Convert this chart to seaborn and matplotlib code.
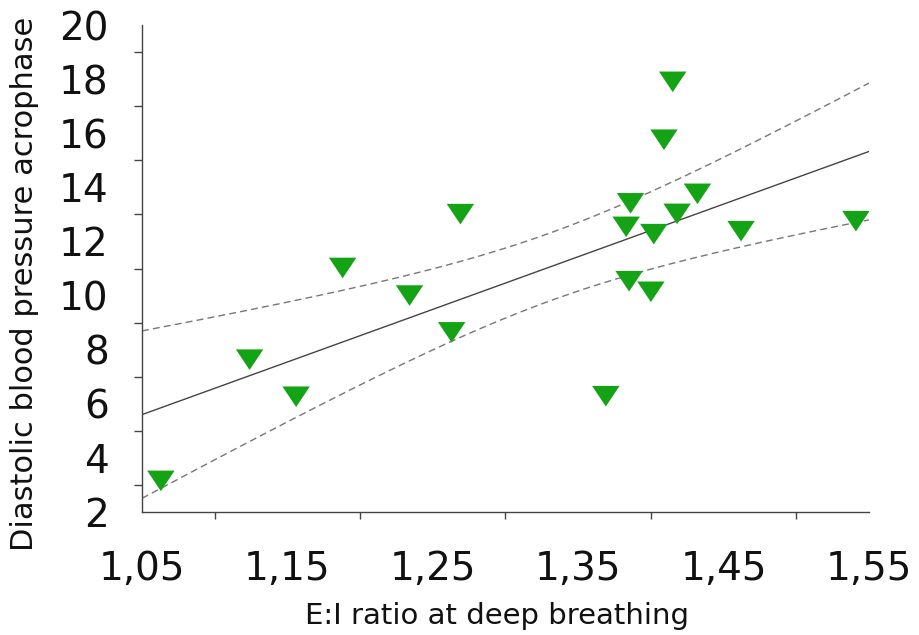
import numpy as np
import pandas as pd
import matplotlib
matplotlib.use("Agg")
import matplotlib.pyplot as plt
from matplotlib.ticker import MultipleLocator, FuncFormatter
from matplotlib.path import Path
import seaborn as sns

# ---- data ----
ei_ratio = [1.063, 1.124, 1.156, 1.188, 1.234, 1.263, 1.269, 1.369, 1.383,
            1.386, 1.385, 1.400, 1.402, 1.409, 1.415, 1.418, 1.432, 1.462, 1.541]
dbp_acrophase = [3.15, 7.63, 6.26, 11.02, 10.0, 8.64, 13.01, 6.28, 12.54,
                 13.41, 10.53, 10.14, 12.27, 15.76, 17.90, 13.02, 13.76, 12.38, 12.75]
x_ticks = [1.05, 1.15, 1.25, 1.35, 1.45, 1.55]
y_ticks = [2, 4, 6, 8, 10, 12, 14, 16, 18, 20]
x_label = "E:I ratio at deep breathing"
y_label = "Diastolic blood pressure acrophase"

df = pd.DataFrame({"x": ei_ratio, "y": dbp_acrophase})

sns.set_style("white")
plt.rcParams["font.family"] = ["DejaVu Sans"]

fig = plt.figure(figsize=(9.19, 6.35), dpi=100)
ax = fig.add_axes([0.1545, 0.1937, 0.7911, 0.7669])

# regression line and analytic 95% confidence band
xs = np.linspace(1.05, 1.55, 200)
x = df["x"].to_numpy(); y = df["y"].to_numpy()
n = len(x)
b1, b0 = np.polyfit(x, y, 1)
fit = b0 + b1 * xs
resid = y - (b0 + b1 * x)
s = np.sqrt(np.sum(resid ** 2) / (n - 2))
sxx = np.sum((x - x.mean()) ** 2)
tval = 2.110
hw = tval * s * np.sqrt(1.0 / n + (xs - x.mean()) ** 2 / sxx)
band = pd.DataFrame({"x": xs, "fit": fit, "lo": fit - hw, "hi": fit + hw})

sns.lineplot(data=band, x="x", y="fit", ax=ax, color="#444444", lw=1.0)
sns.lineplot(data=band, x="x", y="hi", ax=ax, color="#777777", lw=1.0,
             linestyle=(0, (5, 3)))
sns.lineplot(data=band, x="x", y="lo", ax=ax, color="#777777", lw=1.0,
             linestyle=(0, (5, 3)))

tri = Path([(-1, 0.75), (1, 0.75), (0, -0.75), (-1, 0.75)],
           [Path.MOVETO, Path.LINETO, Path.LINETO, Path.CLOSEPOLY])
sns.scatterplot(data=df, x="x", y="y", ax=ax, marker=tri, s=390,
                color="#14a314", edgecolor="none", linewidth=0, zorder=5)

ax.set_xlim(1.05, 1.55)
ax.set_ylim(2, 20)
ax.set_xticks(x_ticks)
ax.set_yticks(y_ticks)
ax.xaxis.set_minor_locator(MultipleLocator(0.05))
ax.yaxis.set_minor_locator(MultipleLocator(1))
ax.xaxis.set_major_formatter(FuncFormatter(lambda v, p: f"{v:.2f}".replace(".", ",")))
ax.yaxis.set_major_formatter(FuncFormatter(lambda v, p: f"{int(round(v))}"))

for sp in ["top", "right"]:
    ax.spines[sp].set_visible(False)
for sp in ["left", "bottom"]:
    ax.spines[sp].set_color("#444444")
    ax.spines[sp].set_linewidth(1.0)

ax.tick_params(axis="both", which="major", direction="out", color="#444444",
               width=1.0, labelsize=28, labelcolor="#111111")
ax.tick_params(axis="y", which="major", length=10, pad=14)
ax.tick_params(axis="y", which="minor", length=5.5, width=1.0, color="#444444", left=True)
ax.tick_params(axis="x", which="major", length=9, pad=18)
ax.tick_params(axis="x", which="minor", length=5, width=1.0, color="#444444", bottom=True)

ax.set_xlabel(x_label, fontsize=21, family=["DejaVu Sans"], color="#111111")
ax.set_ylabel(y_label, fontsize=22, family=["DejaVu Sans"], color="#111111")
ax.xaxis.set_label_coords(0.488, -0.185)
ax.yaxis.set_label_coords(-0.142, 0.468)

fig.savefig("out.png", dpi=100, facecolor="white")
